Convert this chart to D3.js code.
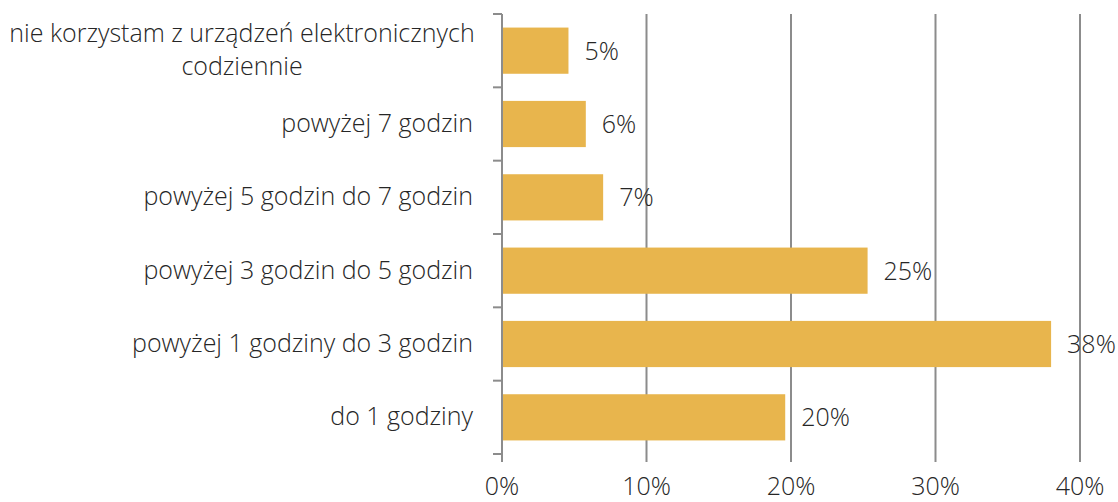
<!DOCTYPE html>
<html>
<head>
<meta charset="utf-8">
<script src="https://cdn.jsdelivr.net/npm/d3@7"></script>
<style>
body { margin: 0; background: #fff; }
svg text { font-family: "Open Sans", sans-serif; font-weight: 300; fill: #262626; }
</style>
</head>
<body>
<svg width="1118" height="502"></svg>
<script>
var categories = [
  ["nie korzystam z urządzeń elektronicznych", "codziennie"],
  ["powyżej 7 godzin"],
  ["powyżej 5 godzin do 7 godzin"],
  ["powyżej 3 godzin do 5 godzin"],
  ["powyżej 1 godziny do 3 godzin"],
  ["do 1 godziny"]
];
var values = [4.6, 5.8, 7.0, 25.3, 38.0, 19.6];
var valueLabels = ["5%", "6%", "7%", "25%", "38%", "20%"];
var xTicks = [0, 10, 20, 30, 40];

var svg = d3.select('svg');
var plotLeft = 502, plotRight = 1080, plotTop = 14, plotBottom = 454;
var fontSize = 25;

var x = d3.scaleLinear().domain([0, 40]).range([plotLeft, plotRight]);
var y = d3.scaleBand().domain(d3.range(categories.length)).range([plotTop, plotBottom]).paddingInner(0.37).paddingOuter(0.185);

// gridlines
svg.selectAll('.grid').data(xTicks.slice(1)).enter().append('line')
  .attr('x1', function(d) { return x(d); })
  .attr('x2', function(d) { return x(d); })
  .attr('y1', plotTop)
  .attr('y2', plotBottom + 8)
  .attr('stroke', '#8c8c8c')
  .attr('stroke-width', 2);

// bars
svg.selectAll('.bar').data(values).enter().append('rect')
  .attr('x', x(0))
  .attr('y', function(d, i) { return y(i); })
  .attr('width', function(d) { return x(d) - x(0); })
  .attr('height', y.bandwidth())
  .attr('fill', '#e8b54d');

// vertical axis line + category tick marks
svg.append('line')
  .attr('x1', plotLeft).attr('x2', plotLeft)
  .attr('y1', plotTop).attr('y2', plotBottom + 8)
  .attr('stroke', '#8c8c8c').attr('stroke-width', 2);

var step = (plotBottom - plotTop) / categories.length;
svg.selectAll('.ytick').data(d3.range(categories.length + 1)).enter().append('line')
  .attr('x1', plotLeft - 9).attr('x2', plotLeft)
  .attr('y1', function(d) { return plotTop + d * step; })
  .attr('y2', function(d) { return plotTop + d * step; })
  .attr('stroke', '#8c8c8c').attr('stroke-width', 2);

// category labels
svg.selectAll('.cat').data(categories).enter().append('text')
  .attr('font-size', fontSize)
  .each(function(d, i) {
    var cy = y(i) + y.bandwidth() / 2;
    var t = d3.select(this);
    var lh = 33;
    var y0 = cy - (d.length - 1) * lh / 2 + 8;
    if (d.length == 1) {
      t.attr('text-anchor', 'end');
      t.append('tspan').attr('x', 473).attr('y', y0).text(d[0]);
    } else {
      t.attr('text-anchor', 'middle');
      d.forEach(function(line, j) {
        t.append('tspan').attr('x', 242).attr('y', y0 + j * lh).text(line);
      });
    }
  });

// value labels
svg.selectAll('.val').data(values).enter().append('text')
  .attr('x', function(d) { return x(d) + 16; })
  .attr('y', function(d, i) { return y(i) + y.bandwidth() / 2 + 9; })
  .attr('font-size', fontSize)
  .text(function(d, i) { return valueLabels[i]; });

// x tick labels
svg.selectAll('.xl').data(xTicks).enter().append('text')
  .attr('x', function(d) { return x(d); })
  .attr('y', 495)
  .attr('text-anchor', 'middle')
  .attr('font-size', fontSize)
  .text(function(d) { return d + '%'; });
</script>
</body>
</html>
